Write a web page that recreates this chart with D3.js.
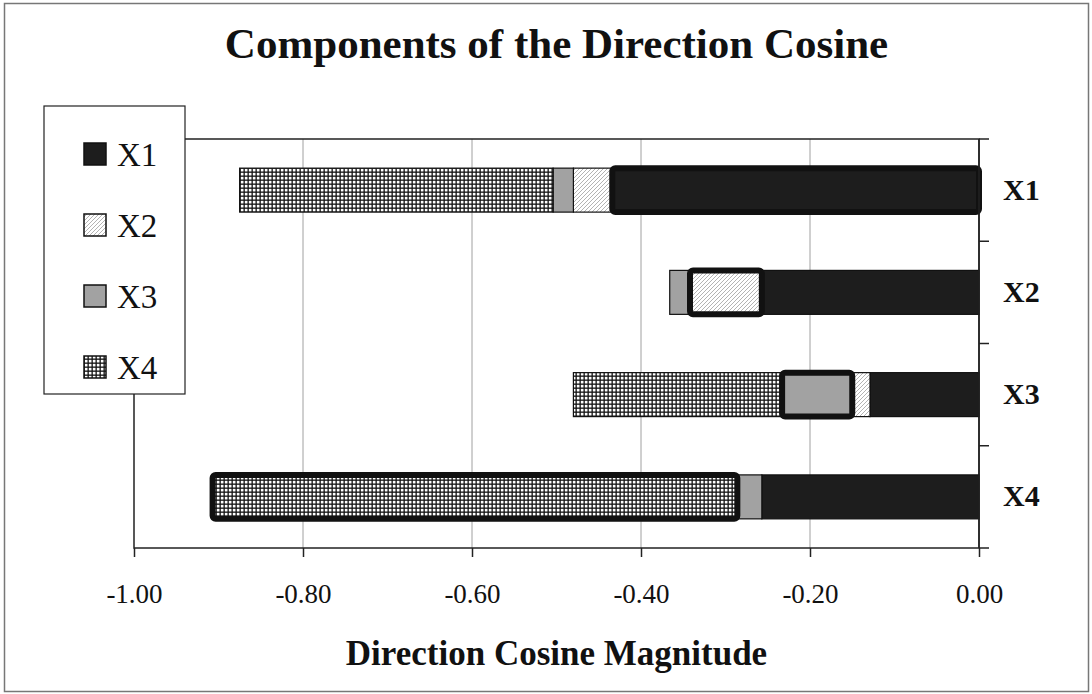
<!doctype html>
<html>

<head>
    <style>
        body {
            margin: 0;
            background: #fff;
        }

        text {
            font-family: "Liberation Serif", "Times New Roman", serif;
            fill: #111;
        }

        .grid line {
            stroke: #a0a0a0;
            stroke-width: 1px;
        }

        .axis path {
            display: none;
        }

        .axis line {
            stroke: #222;
            stroke-width: 1.5px;
        }
    </style>
    <script src="https://d3js.org/d3.v7.min.js"></script>
</head>

<body>
    <script>
        // categories (rows) and the four components stacked in each bar
        const categories = ["X1", "X2", "X3", "X4"]
        const keys = ["X1", "X2", "X3", "X4"]
        const x1Values = [-0.434, -0.257, -0.129, -0.257]
        const x2Values = [-0.046, -0.085, -0.021, 0]
        const x3Values = [-0.024, -0.024, -0.083, -0.029]
        const x4Values = [-0.371, 0, -0.247, -0.621]
        const xTicks = [-1, -0.8, -0.6, -0.4, -0.2, 0]

        const width = 1092
        const height = 694
        const plot = { left: 134, right: 979, top: 139, bottom: 548 }

        const svg = d3.select("body").append("svg")
            .attr("width", width)
            .attr("height", height)

        //patterns for the series fills
        const defs = svg.append("defs")
        const hatch = defs.append("pattern")
            .attr("id", "hatch").attr("patternUnits", "userSpaceOnUse")
            .attr("width", 4).attr("height", 4)
        hatch.append("rect").attr("width", 4).attr("height", 4).attr("fill", "#fff")
        hatch.append("path")
            .attr("d", "M-1,1 l2,-2 M0,4 l4,-4 M3,5 l2,-2")
            .attr("stroke", "#aaa").attr("stroke-width", 0.9)

        const checks = defs.append("pattern")
            .attr("id", "checks").attr("patternUnits", "userSpaceOnUse")
            .attr("width", 4).attr("height", 4)
        checks.append("rect").attr("width", 4).attr("height", 4).attr("fill", "#111")
        checks.append("rect").attr("x", 0.8).attr("y", 0.8).attr("width", 2.7).attr("height", 2.7).attr("fill", "#fff")

        const fills = { X1: "#1d1d1d", X2: "url(#hatch)", X3: "#a2a2a2", X4: "url(#checks)" }

        // outer frame
        svg.append("rect")
            .attr("x", 4.5).attr("y", 3.5)
            .attr("width", 1084).attr("height", 688)
            .attr("fill", "none").attr("stroke", "#777").attr("stroke-width", 1.5)

        const x = d3.scaleLinear().domain([-1, 0]).range([plot.left, plot.right])
        const y = d3.scaleBand().domain(categories)
            .range([plot.top, plot.bottom])
            .paddingInner(0.57).paddingOuter(0.285)

        //gridlines
        svg.append("g").attr("class", "grid")
            .selectAll("line")
            .data(xTicks.slice(1, -1))
            .enter()
            .append("line")
            .attr("x1", d => x(d)).attr("x2", d => x(d))
            .attr("y1", plot.top).attr("y2", plot.bottom)

        // plot border
        svg.append("rect")
            .attr("x", plot.left).attr("y", plot.top)
            .attr("width", plot.right - plot.left).attr("height", plot.bottom - plot.top)
            .attr("fill", "none").attr("stroke", "#222").attr("stroke-width", 1.5)

        const rows = categories.map((c, i) => ({
            cat: c, X1: x1Values[i], X2: x2Values[i], X3: x3Values[i], X4: x4Values[i]
        }))
        const stacked = d3.stack().keys(keys).offset(d3.stackOffsetDiverging)(rows)

        const segments = []
        stacked.forEach(s => s.forEach(d => {
            if (d[1] - d[0] !== 0) segments.push({ key: s.key, cat: d.data.cat, v0: d[0], v1: d[1] })
        }))

        const bars = svg.append("g")
        bars.selectAll("rect.seg")
            .data(segments.filter(d => d.key !== d.cat))
            .enter()
            .append("rect")
            .attr("class", "seg")
            .attr("x", d => x(d.v0))
            .attr("width", d => x(d.v1) - x(d.v0))
            .attr("y", d => y(d.cat))
            .attr("height", y.bandwidth())
            .attr("fill", d => fills[d.key])
            .attr("stroke", "#111")
            .attr("stroke-width", 1.2)

        //own component gets the heavy outline
        bars.selectAll("rect.own")
            .data(segments.filter(d => d.key === d.cat))
            .enter()
            .append("rect")
            .attr("class", "own")
            .attr("x", d => x(d.v0))
            .attr("width", d => x(d.v1) - x(d.v0))
            .attr("y", d => y(d.cat))
            .attr("height", y.bandwidth())
            .attr("rx", 3)
            .attr("fill", d => fills[d.key])
            .attr("stroke", "#111")
            .attr("stroke-width", 6)

        // right edge over the bars
        svg.append("line")
            .attr("x1", plot.right).attr("x2", plot.right)
            .attr("y1", plot.top).attr("y2", plot.bottom)
            .attr("stroke", "#222").attr("stroke-width", 1.5)

        // x axis
        const xAxis = svg.append("g").attr("class", "axis")
            .attr("transform", `translate(0,${plot.bottom})`)
            .call(d3.axisBottom(x).tickValues(xTicks).tickFormat(d => d.toFixed(2)).tickSize(9).tickPadding(27))
        xAxis.selectAll("text")
            .style("font-size", "27px")
            .attr("fill", "#111")

        // category axis on the right, ticks between bars
        svg.append("g")
            .selectAll("line")
            .data(d3.range(categories.length + 1))
            .enter()
            .append("line")
            .attr("x1", plot.right).attr("x2", plot.right + 10)
            .attr("y1", i => plot.top + i * y.step())
            .attr("y2", i => plot.top + i * y.step())
            .attr("stroke", "#222").attr("stroke-width", 1.5)

        svg.append("g").attr("class", "axis")
            .attr("transform", `translate(${plot.right},0)`)
            .call(d3.axisRight(y).tickSize(0).tickPadding(24))
            .selectAll("text")
            .style("font-size", "30px")
            .style("font-weight", "bold")
            .attr("fill", "#111")

        // titles
        svg.append("text")
            .attr("x", (plot.left + plot.right) / 2)
            .attr("y", 58)
            .attr("text-anchor", "middle")
            .style("font-size", "43px")
            .style("font-weight", "bold")
            .text("Components of the Direction Cosine")

        svg.append("text")
            .attr("x", (plot.left + plot.right) / 2)
            .attr("y", 665)
            .attr("text-anchor", "middle")
            .style("font-size", "35px")
            .style("font-weight", "bold")
            .text("Direction Cosine Magnitude")

        // legend
        const legend = svg.append("g").attr("transform", "translate(44,106)")
        legend.append("rect")
            .attr("width", 141).attr("height", 288)
            .attr("fill", "#fff").attr("stroke", "#222").attr("stroke-width", 1.2)

        const item = legend.selectAll("g.item")
            .data(keys)
            .enter()
            .append("g")
            .attr("class", "item")
            .attr("transform", (d, i) => `translate(0,${48 + i * 71})`)
        item.append("rect")
            .attr("x", 40).attr("y", -11)
            .attr("width", 22).attr("height", 22)
            .attr("fill", d => fills[d])
            .attr("stroke", "#111").attr("stroke-width", 1.5)
        item.append("text")
            .attr("x", 73).attr("y", 12)
            .style("font-size", "33px")
            .text(d => d)
    </script>
</body>

</html>
